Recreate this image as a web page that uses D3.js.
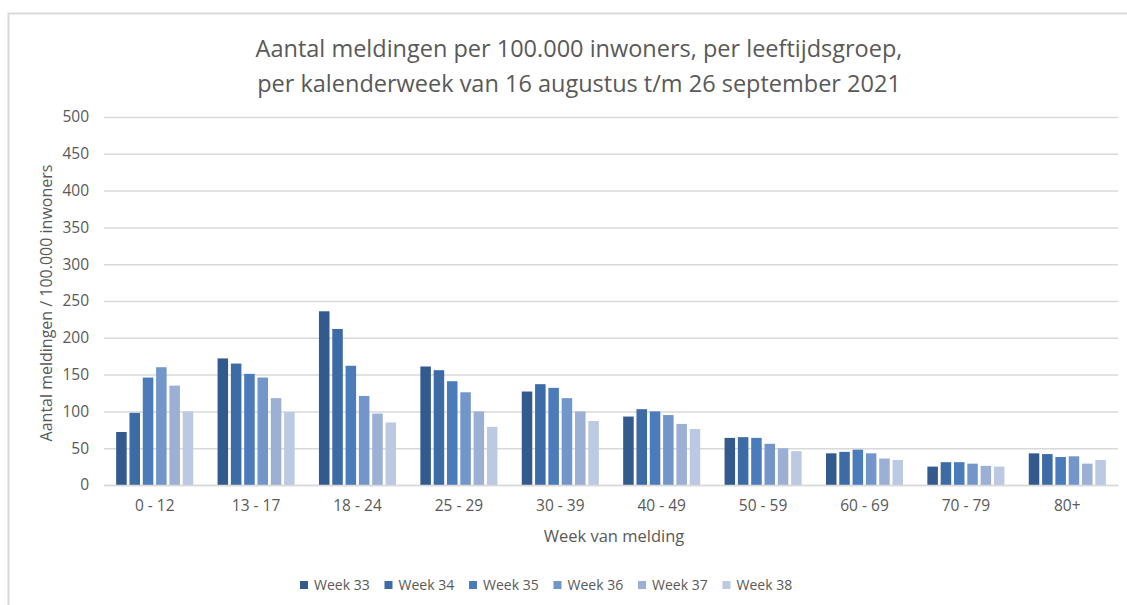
<!DOCTYPE html>
<html>
<head>
<meta charset="utf-8">
<script src="https://cdn.jsdelivr.net/npm/d3@7"></script>
<style>
  body { margin: 0; background: #fff; }
  text { font-family: "Open Sans", "Noto Sans", sans-serif; fill: #595959; }
</style>
</head>
<body>
<div id="viz"></div>
<script>
const width = 1127;
const height = 605;

// age groups on the x axis
const groups = ["0 - 12", "13 - 17", "18 - 24", "25 - 29", "30 - 39", "40 - 49", "50 - 59", "60 - 69", "70 - 79", "80+"];
const weeks = ["Week 33", "Week 34", "Week 35", "Week 36", "Week 37", "Week 38"];
const colors = ["#335a8c", "#3d6ba5", "#4a7bba", "#7396ca", "#9bb0d4", "#bcc9e2"];

// values per week, one entry per age group
const week33 = [72, 172, 236, 161, 127, 93, 64, 43, 25, 43];
const week34 = [98, 165, 212, 156, 137, 103, 65, 45, 31, 42];
const week35 = [146, 151, 162, 141, 132, 100, 64, 48, 31, 38];
const week36 = [160, 146, 121, 126, 118, 95, 56, 43, 29, 39];
const week37 = [135, 118, 97, 100, 100, 83, 50, 36, 26, 29];
const week38 = [100, 99, 85, 79, 87, 76, 46, 34, 25, 34];
const series = [week33, week34, week35, week36, week37, week38];

const yTicks = [0, 50, 100, 150, 200, 250, 300, 350, 400, 450, 500];

const title1 = "Aantal meldingen per 100.000 inwoners, per leeftijdsgroep,";
const title2 = "per kalenderweek van 16 augustus t/m 26 september 2021";
const xAxisLabel = "Week van melding";
const yAxisLabel = "Aantal meldingen / 100.000 inwoners";

const margin = { top: 117, right: 9, bottom: 120, left: 104 };
const innerWidth = width - margin.left - margin.right;
const innerHeight = height - margin.top - margin.bottom;

const svg = d3.select("#viz")
    .append("svg")
    .attr("width", width)
    .attr("height", height);

// chart frame (only left and top edges visible)
svg.append("path")
    .attr("d", `M8.5,${height} V13.5 H${width}`)
    .attr("fill", "none")
    .attr("stroke", "#d9d9d9")
    .attr("stroke-width", 2);

const g = svg.append("g")
    .attr("transform", `translate(${margin.left}, ${margin.top})`);

const x0 = d3.scaleBand()
    .domain(groups)
    .range([0, innerWidth])
    .paddingInner(0.24)
    .paddingOuter(0.12);

const x1 = d3.scaleBand()
    .domain(weeks)
    .range([0, x0.bandwidth()])
    .paddingInner(0.21);

const yScale = d3.scaleLinear()
    .domain([0, 500])
    .range([innerHeight, 0]);

const yAxis = d3.axisLeft(yScale)
    .tickValues(yTicks)
    .tickSize(-innerWidth)
    .tickPadding(15);

const yAxisG = g.append("g").call(yAxis);
yAxisG.select(".domain").remove();
yAxisG.selectAll(".tick line")
    .attr("stroke", "#d9d9d9")
    .attr("stroke-width", 1.5);
yAxisG.selectAll(".tick text")
    .style("font-size", "15.5px")
    .attr("fill", "#595959");

// bars
series.forEach((vals, i) => {
    g.append("g")
        .selectAll("rect")
        .data(vals)
        .enter()
        .append("rect")
        .attr("x", (d, j) => x0(groups[j]) + x1(weeks[i]))
        .attr("y", d => yScale(d))
        .attr("width", x1.bandwidth())
        .attr("height", d => innerHeight - yScale(d))
        .attr("fill", colors[i]);
});

const xAxis = d3.axisBottom(x0)
    .tickSize(0)
    .tickPadding(15);

const xAxisG = g.append("g")
    .attr("transform", `translate(0, ${innerHeight})`)
    .call(xAxis);
xAxisG.select(".domain")
    .attr("stroke", "#d9d9d9")
    .attr("stroke-width", 1.5);
xAxisG.selectAll(".tick text")
    .style("font-size", "15.5px")
    .attr("fill", "#595959");

g.append("text")
    .attr("x", innerWidth / 2 + 3)
    .attr("y", innerHeight + 57)
    .attr("text-anchor", "middle")
    .style("font-size", "16.5px")
    .text(xAxisLabel);

svg.append("text")
    .attr("transform", `translate(52, ${margin.top + innerHeight / 2 + 2}) rotate(-90)`)
    .attr("text-anchor", "middle")
    .style("font-size", "16px")
    .text(yAxisLabel);

// title
svg.append("text")
    .attr("x", 579)
    .attr("y", 57)
    .attr("text-anchor", "middle")
    .style("font-size", "23.5px")
    .text(title1);
svg.append("text")
    .attr("x", 579)
    .attr("y", 92)
    .attr("text-anchor", "middle")
    .style("font-size", "23.5px")
    .text(title2);

// legend
const legend = svg.append("g")
    .attr("transform", "translate(300, 585)");
const legendSpacing = 84.5;
legend.selectAll("rect")
    .data(weeks)
    .enter()
    .append("rect")
    .attr("x", (d, i) => i * legendSpacing)
    .attr("y", -4)
    .attr("width", 8)
    .attr("height", 8)
    .attr("fill", (d, i) => colors[i]);
legend.selectAll("text")
    .data(weeks)
    .enter()
    .append("text")
    .attr("x", (d, i) => i * legendSpacing + 14)
    .attr("y", 5)
    .style("font-size", "14px")
    .text(d => d);
</script>
</body>
</html>
